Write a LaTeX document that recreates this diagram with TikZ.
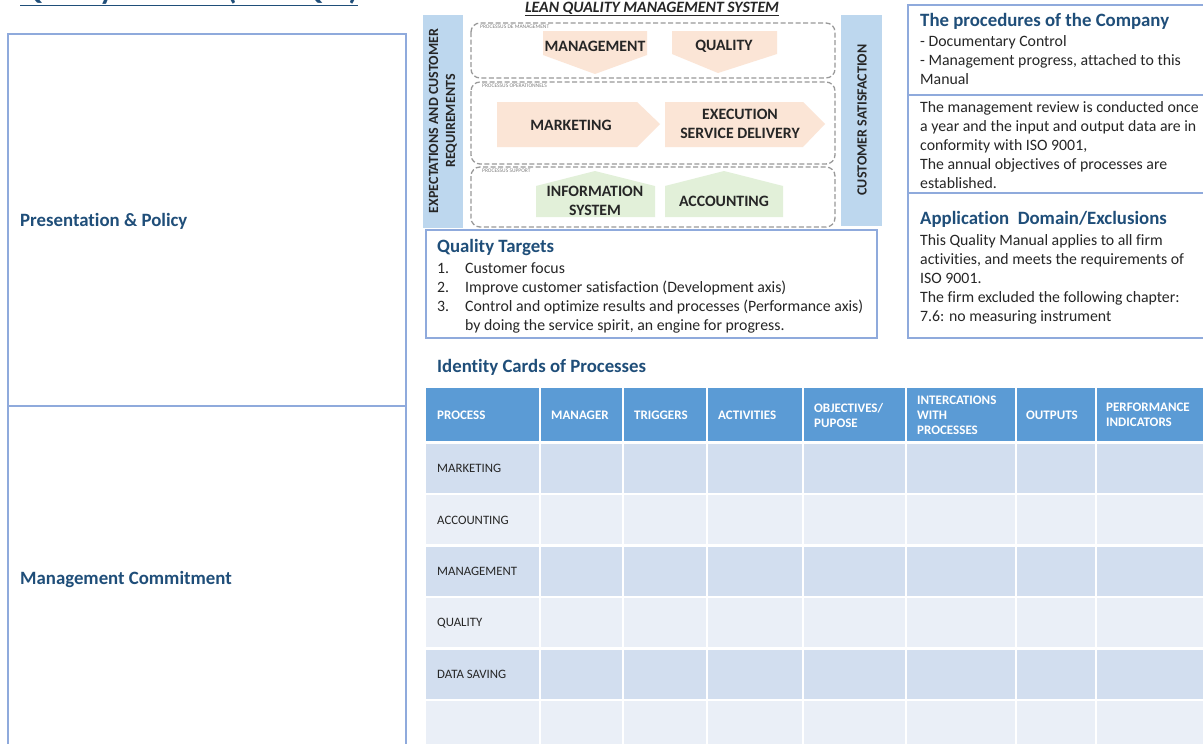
\documentclass[tikz,border=0pt]{standalone}
\usepackage{fontspec}
\setmainfont{Carlito}[Ligatures=NoCommon]
\usetikzlibrary{positioning,calc}
\definecolor{headblue}{HTML}{1F4E79}
\definecolor{panelblue}{HTML}{8FAADC}
\definecolor{barblue}{HTML}{BDD7EE}
\definecolor{peach}{HTML}{FBE5D6}
\definecolor{leafgreen}{HTML}{E2F0D9}
\definecolor{headfill}{HTML}{5B9BD5}
\definecolor{rowdark}{HTML}{D2DEEF}
\definecolor{rowlight}{HTML}{EAEFF7}
\definecolor{inkgray}{HTML}{262626}
% rows of text whose baseline is the first row
\newcommand{\textrows}[1]{\begin{tabular}[t]{@{}l@{}}#1\end{tabular}}

\begin{document}
\begin{tikzpicture}[x=1pt,y=-1pt,
    panel/.style={draw=panelblue,line width=1.3pt},
    heading/.style={anchor=base west,inner sep=0,text=headblue,font=\fontsize{18.8}{22}\selectfont\bfseries},
    bodytext/.style={anchor=base west,inner sep=0,text=inkgray,font=\fontsize{15.8}{19}\selectfont},
    procbox/.style={draw=gray!80,dashed,dash pattern=on 5pt off 2.5pt,line width=1.3pt,rounded corners=9pt},
    tinylabel/.style={anchor=west,inner sep=0,text=gray,font=\fontsize{5.5}{6}\selectfont},
    shapetext/.style={align=center,inner sep=0,text=inkgray,font=\fontsize{15.8}{19}\selectfont\bfseries},
    bartext/.style={align=center,inner sep=0,rotate=90,text=inkgray,font=\fontsize{14}{17}\selectfont\bfseries},
    cellhead/.style={anchor=west,align=left,inner sep=0,text=white,font=\fontsize{13}{15}\selectfont\bfseries},
    celltext/.style={anchor=west,inner sep=0,text=inkgray,font=\fontsize{12.8}{14}\selectfont}]

\fill[white] (0,0) rectangle (1203,744);
\useasboundingbox (0,0) rectangle (1203,744);

% title, cut at the top of the page
\node[anchor=base west,inner sep=0,text=headblue,font=\fontsize{31}{34}\selectfont\bfseries] (title) at (20,-1) {\underline{Quality Manual (DOC QM)}};

% left column
\draw[panel] (8,34) rectangle (406,760);
\draw[panel] (8,406) -- (406,406);
\node[heading] (policy) at (20,226) {Presentation \& Policy};
\node[heading] (commit) at (20,584) {Management Commitment};

% lean quality management system
\node[inner sep=0,text=inkgray,font=\fontsize{15.8}{18}\selectfont\bfseries\itshape] (lean) at (652,9) {\underline{LEAN QUALITY MANAGEMENT SYSTEM}};
\fill[barblue] (423,15) rectangle (463,228);
\fill[barblue] (841,15) rectangle (882,226);
\node[bartext] (expect) at (443,121) {EXPECTATIONS AND CUSTOMER\\REQUIREMENTS};
\node[bartext] (satis) at (862,120) {CUSTOMER SATISFACTION};

\draw[procbox] (471,23) rectangle (835,78);
\draw[procbox] (471,82) rectangle (835,164);
\draw[procbox] (471,167) rectangle (835,227);
\node[tinylabel] (lblmgmt) at (480,27) {PROCESSUS DE MANAGEMENT};
\node[tinylabel] (lblop) at (482,86) {PROCESSUS OPERATIONNELS};
\node[tinylabel] (lblsup) at (482,171) {PROCESSUS SUPPORT};

\fill[peach] (543,31) -- (647,31) -- (647,55) -- (595,74) -- (543,55) -- cycle;
\fill[peach] (672,31) -- (777,31) -- (777,54) -- (718,73) -- (672,54) -- cycle;
\fill[peach] (497,102) -- (637,102) -- (660,124) -- (637,147) -- (497,147) -- cycle;
\fill[peach] (665,102) -- (803,102) -- (825,124) -- (803,147) -- (665,147) -- cycle;
\fill[leafgreen] (536,217) -- (536,186) -- (595,171) -- (655,186) -- (655,217) -- cycle;
\fill[leafgreen] (665,217) -- (665,186) -- (724,171) -- (783,186) -- (783,217) -- cycle;
\node[shapetext] (management) at (595,46) {MANAGEMENT};
\node[shapetext] (quality) at (724,46) {QUALITY};
\node[shapetext] (marketing) at (571,125) {MARKETING};
\node[shapetext] (execution) at (740,124) {EXECUTION\\SERVICE DELIVERY};
\node[shapetext] (infosys) at (595,201) {INFORMATION\\SYSTEM};
\node[shapetext] (accounting) at (724,201) {ACCOUNTING};

% quality targets
\draw[panel] (426,230) rectangle (877,338);
\node[heading] (targets) at (437,252) {Quality Targets};
\node[bodytext] (targetlist) at (437,273) {\begin{tabular}[t]{@{}p{28pt}@{}l@{}}
1. & Customer focus\\
2. & Improve customer satisfaction (Development axis)\\
3. & Control and optimize results and processes (Performance axis)\\
   & by doing the service spirit, an engine for progress.
\end{tabular}};

% right column
\draw[panel] (908,5) rectangle (1215,338);
\draw[panel] (908,95) -- (1215,95);
\draw[panel] (908,193) -- (1215,193);
\node[heading] (procedures) at (920,26) {The procedures of the Company};
\node[bodytext] (proctext) at (920,46) {\textrows{- Documentary Control\\- Management progress, attached to this\\Manual}};
\node[bodytext] (review) at (920,112) {\textrows{The management review is conducted once\\a year and the input and output data are in\\conformity with ISO 9001,\\The annual objectives of processes are\\established.}};
\node[heading] (domain) at (920,224) {Application\ \ Domain/Exclusions};
\node[bodytext] (domaintext) at (920,245) {\textrows{This Quality Manual applies to all firm\\activities, and meets the requirements of\\ISO 9001.\\The firm excluded the following chapter:\\7.6: no measuring instrument}};

% identity cards table
\node[heading] (cards) at (437,372) {Identity Cards of Processes};
\fill[headfill] (426,388) rectangle (1203,441);
\foreach \y/\c in {444/rowdark,495/rowlight,547/rowdark,598/rowlight,650/rowdark,701/rowlight}
  \fill[\c] (426,\y) rectangle (1203,\y+49);
\foreach \x in {540,623,707,803,906,1016,1096}
  \draw[white,line width=2pt] (\x,388) -- (\x,750);
\node[cellhead] (hprocess) at (437,415) {PROCESS};
\node[cellhead] (hmanager) at (551,415) {MANAGER};
\node[cellhead] (htriggers) at (634,415) {TRIGGERS};
\node[cellhead] (hactivities) at (718,415) {ACTIVITIES};
\node[cellhead] (hobjectives) at (814,415) {OBJECTIVES/\\PUPOSE};
\node[cellhead] (hinteractions) at (917,415) {INTERCATIONS\\WITH\\PROCESSES};
\node[cellhead] (houtputs) at (1026,415) {OUTPUTS};
\node[cellhead] (hindicators) at (1106,415) {PERFORMANCE\\INDICATORS};
\foreach \y/\t/\n in {468/MARKETING/rmarketing,520/ACCOUNTING/raccounting,571/MANAGEMENT/rmanagement,623/QUALITY/rquality,674/DATA SAVING/rdata}
  \node[celltext] (\n) at (437,\y) {\t};
\end{tikzpicture}
\end{document}
